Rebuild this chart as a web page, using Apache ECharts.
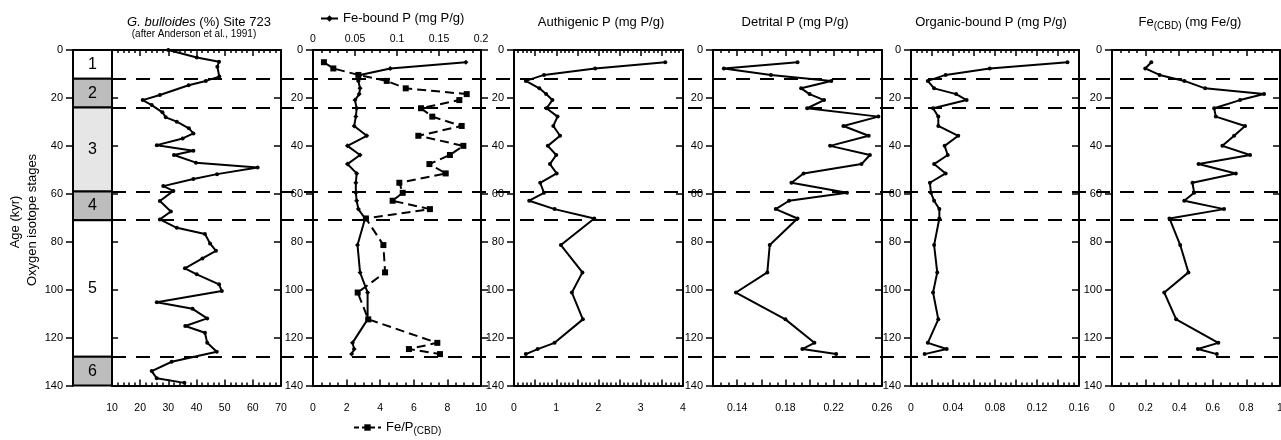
<!DOCTYPE html>
<html><head><meta charset="utf-8">
<script src="https://cdn.jsdelivr.net/npm/echarts@6/dist/echarts.min.js"></script>
<style>html,body{margin:0;padding:0;background:#fff}#c{width:1281px;height:440px}</style>
</head><body><div id="c"></div>
<script>
// ---------------- data ----------------
const bullAges = [0, 3.1, 4.9, 7.0, 11.1, 12.9, 14.7, 18.8, 20.9, 23.0, 26.0, 28.1, 29.9, 32.7, 34.8, 36.9, 39.7, 42.0, 43.8, 47.0, 49.0, 51.8, 53.8, 56.8, 58.8, 63.0, 67.4, 70.7, 74.2, 76.8, 80.7, 83.8, 87.0, 91.1, 93.6, 97.8, 100.6, 105.3, 108.0, 112.0, 115.2, 118.0, 122.2, 125.9, 130.1, 134.0, 137.0, 138.9];
const bulloides = [30.0, 40.1, 48.0, 47.4, 48.1, 43.3, 37.2, 27.0, 20.9, 24.1, 27.9, 29.1, 33.0, 37.3, 38.9, 35.1, 25.9, 38.9, 32.0, 39.8, 61.7, 47.3, 38.9, 28.2, 31.8, 27.0, 30.9, 27.0, 33.0, 43.0, 44.8, 46.9, 42.1, 35.9, 40.1, 48.0, 49.0, 25.9, 38.6, 43.8, 36.0, 43.0, 43.8, 47.2, 31.2, 24.1, 25.9, 35.7];

const ages = [5.1, 7.7, 10.4, 12.9, 16.0, 18.4, 20.9, 24.3, 27.8, 31.7, 35.8, 40.0, 43.8, 47.6, 51.5, 55.4, 59.6, 62.9, 66.4, 70.3, 81.4, 92.8, 101.2, 112.4, 122.2, 124.8, 126.9];
const feBoundP = [0.182, 0.092, 0.056, 0.054, 0.056, 0.055, 0.050, 0.052, 0.051, 0.049, 0.064, 0.041, 0.056, 0.041, 0.052, 0.051, 0.051, 0.052, 0.054, 0.062, 0.053, 0.056, 0.065, 0.065, 0.047, 0.049, 0.046];
const feP = [0.65, 1.21, 2.70, 4.39, 5.52, 9.15, 8.71, 6.43, 7.10, 8.85, 6.27, 8.95, 8.15, 6.93, 7.90, 5.14, 5.34, 4.74, 6.96, 3.15, 4.19, 4.29, 2.66, 3.29, 7.40, 5.71, 7.56];
const authigenicP = [3.58, 1.92, 0.71, 0.28, 0.60, 0.76, 0.91, 0.77, 1.03, 0.93, 1.09, 0.80, 1.00, 0.85, 1.01, 0.62, 0.71, 0.36, 0.96, 1.90, 1.11, 1.62, 1.37, 1.63, 0.96, 0.56, 0.28];
const detritalP = [0.190, 0.129, 0.168, 0.218, 0.193, 0.200, 0.212, 0.198, 0.257, 0.228, 0.249, 0.217, 0.250, 0.243, 0.195, 0.185, 0.231, 0.183, 0.172, 0.190, 0.167, 0.165, 0.139, 0.180, 0.204, 0.194, 0.222];
const organicP = [0.149, 0.075, 0.033, 0.016, 0.022, 0.043, 0.053, 0.021, 0.026, 0.026, 0.045, 0.032, 0.035, 0.022, 0.033, 0.018, 0.019, 0.022, 0.027, 0.027, 0.022, 0.025, 0.021, 0.026, 0.016, 0.034, 0.013];
const feCBD = [0.234, 0.198, 0.283, 0.431, 0.554, 0.905, 0.762, 0.608, 0.618, 0.792, 0.727, 0.657, 0.822, 0.515, 0.737, 0.479, 0.489, 0.430, 0.667, 0.342, 0.406, 0.455, 0.311, 0.382, 0.633, 0.511, 0.624];

const stageBounds = [0, 12, 24, 59, 71, 128, 140];
const stageLabels = ['1', '2', '3', '4', '5', '6'];
const stageBoundaryAges = [12, 24, 59, 71, 128];

// ---------------- styles ----------------
const stageFill = ['#ffffff', '#bdbdbd', '#e6e6e6', '#bdbdbd', '#ffffff', '#bdbdbd'];
const FONT = '"Liberation Sans", Arial, Helvetica, sans-serif';
const TOP = 50, HEIGHT = 335.5;

const chart = echarts.init(document.getElementById('c'), null, {renderer: 'canvas'});

const grids = [], xAxes = [], yAxes = [], series = [];
function addGrid(left, width) {
  grids.push({left: left, top: TOP, width: width, height: HEIGHT, containLabel: false, outerBoundsMode: 'none', show: false});
  return grids.length - 1;
}
const axLine = {show: true, onZero: false, lineStyle: {color: '#000', width: 2}};

function xAxis(gi, pos, cfg, showLabel) {
  xAxes.push({
    gridIndex: gi, type: 'value', position: pos, min: cfg.min, max: cfg.max, interval: cfg.interval,
    axisLine: axLine,
    axisTick: {show: true, inside: true, length: 6, lineStyle: {color: '#000', width: 1.5}},
    minorTick: {show: true, splitNumber: cfg.minor, length: 3, lineStyle: {color: '#000', width: 1.5}},
    splitLine: {show: false}, minorSplitLine: {show: false},
    axisLabel: {show: showLabel, color: '#000', fontSize: 10.5, fontFamily: FONT, margin: pos === 'top' ? 5 : 17,
      formatter: cfg.fmt, showMinLabel: true, showMaxLabel: true}
  });
  return xAxes.length - 1;
}
function yAxis(gi, pos, showLabel, tickInside) {
  yAxes.push({
    gridIndex: gi, type: 'value', position: pos, min: 0, max: 140, interval: 20, inverse: true,
    axisLine: axLine,
    axisTick: {show: true, inside: !!tickInside, length: 7, lineStyle: {color: '#000', width: 1.5}},
    splitLine: {show: false},
    axisLabel: {show: showLabel, color: '#000', fontSize: 11, fontFamily: FONT, margin: 10}
  });
  return yAxes.length - 1;
}
function lineSeries(name, xi, yi, xs, ys, symbol, size, dashed) {
  series.push({
    name: name, type: 'line', xAxisIndex: xi, yAxisIndex: yi,
    data: xs.map((v, k) => [v, ys[k]]),
    symbol: symbol, symbolSize: size, showSymbol: true,
    lineStyle: {color: '#000', width: 2, type: dashed ? [9, 5] : 'solid'},
    itemStyle: {color: '#000'}, animation: false, z: 5
  });
}
const fmtFix = d => (v => String(+v.toFixed(d)));

// stage column
const g0 = addGrid(73, 39);
xAxes.push({gridIndex: g0, type: 'value', min: 0, max: 1, show: false});
const y0 = yAxis(g0, 'left', true, false);
series.push({
  type: 'custom', xAxisIndex: xAxes.length - 1, yAxisIndex: y0, animation: false, z: 3,
  data: stageLabels.map((l, i) => [stageBounds[i], stageBounds[i + 1], i]),
  renderItem: function (params, api) {
    const i = api.value(2);
    const p0 = api.coord([0, api.value(0)]);
    const p1 = api.coord([1, api.value(1)]);
    return {
      type: 'rect',
      shape: {x: p0[0], y: p0[1], width: p1[0] - p0[0], height: p1[1] - p0[1]},
      style: {fill: stageFill[i], stroke: '#000', lineWidth: 2},
      textContent: {style: {text: stageLabels[i], fontSize: 16, fill: '#000', fontFamily: FONT}},
      textConfig: {position: 'inside'}
    };
  }
});

// panel 1: G. bulloides
{
  const g = addGrid(112, 169);
  const c = {min: 10, max: 70, interval: 10, minor: 5};
  const xb = xAxis(g, 'bottom', c, true); xAxis(g, 'top', c, false);
  const yl = yAxis(g, 'left', false, true); yAxes[yl].axisTick.length = 6;
  yAxis(g, 'right', false, true);
  lineSeries('bull', xb, yl, bulloides, bullAges, 'circle', 4, false);
}
// panel 2: Fe-bound P and Fe/P
{
  const g = addGrid(313, 168);
  const xb = xAxis(g, 'bottom', {min: 0, max: 10, interval: 2, minor: 4}, true);
  const xt = xAxis(g, 'top', {min: 0, max: 0.2, interval: 0.05, minor: 5, fmt: fmtFix(2)}, true);
  const yl = yAxis(g, 'left', true, false); yAxis(g, 'right', false, false);
  lineSeries('Fe-bound P (mg P/g)', xt, yl, feBoundP, ages, 'diamond', 5, false);
  lineSeries('Fe/P', xb, yl, feP, ages, 'rect', 6, true);
}
// panels 3-6
const others = [
  {left: 514, width: 169, vals: authigenicP, c: {min: 0, max: 4, interval: 0.5, minor: 5, fmt: v => (Math.abs(v - Math.round(v)) < 1e-6 ? String(Math.round(v)) : '')}},
  {left: 713, width: 169, vals: detritalP, c: {min: 0.12, max: 0.26, interval: 0.02, minor: 3, fmt: v => (Math.round(v * 100) % 4 === 2 ? String(+v.toFixed(2)) : '')}},
  {left: 911, width: 168, vals: organicP, c: {min: 0, max: 0.16, interval: 0.02, minor: 4, fmt: v => (Math.round(v * 100) % 4 === 0 ? String(+v.toFixed(2)) : '')}},
  {left: 1112, width: 168, vals: feCBD, c: {min: 0, max: 1, interval: 0.2, minor: 4, fmt: fmtFix(1)}}
];
others.forEach((p, k) => {
  const g = addGrid(p.left, p.width);
  const xb = xAxis(g, 'bottom', p.c, true); xAxis(g, 'top', p.c, false);
  const yl = yAxis(g, 'left', true, false); yAxis(g, 'right', false, true);
  lineSeries('p' + k, xb, yl, p.vals, ages, 'circle', 4, false);
});

// dashed stage boundaries across panels
{
  const g = addGrid(112, 1169);
  xAxes.push({gridIndex: g, type: 'value', min: 0, max: 1, show: false});
  yAxes.push({gridIndex: g, type: 'value', min: 0, max: 140, inverse: true, show: false});
  series.push({
    type: 'line', xAxisIndex: xAxes.length - 1, yAxisIndex: yAxes.length - 1, data: [],
    animation: false, silent: true, z: 2,
    markLine: {
      silent: true, symbol: ['none', 'none'], animation: false, label: {show: false},
      lineStyle: {color: '#000', width: 2, type: [14, 10]},
      emphasis: {disabled: true},
      data: stageBoundaryAges.map(a => ({yAxis: a}))
    }
  });
}

const txt = (x, y, text, size, extra) => Object.assign({
  type: 'text', x: x, y: y, silent: true,
  style: Object.assign({text: text, fontSize: size, fontFamily: FONT, fill: '#000', align: 'center', verticalAlign: 'middle'}, extra || {})
});

chart.setOption({
  animation: false,
  backgroundColor: '#fff',
  grid: grids, xAxis: xAxes, yAxis: yAxes, series: series,
  legend: [
    {data: ['Fe-bound P (mg P/g)'], left: 320, top: 12, padding: 0, itemWidth: 17, itemHeight: 8, selectedMode: false,
      textStyle: {color: '#000', fontSize: 13, fontFamily: FONT}},
    {data: ['Fe/P'], left: 353, top: 421, padding: 0, itemWidth: 27, itemHeight: 8, selectedMode: false,
      lineStyle: {type: [5, 3], width: 2, color: '#000'},
      formatter: () => '{a|Fe/P}{b|(CBD)}',
      textStyle: {color: '#000', fontFamily: FONT, rich: {a: {fontSize: 13, fontFamily: FONT}, b: {fontSize: 10, fontFamily: FONT, padding: [8, 0, 0, 0]}}}}
  ],
  graphic: [
    txt(199, 22.5, '{i|G. bulloides} (%) Site 723', 13, {rich: {i: {fontStyle: 'italic', fontSize: 13, fontFamily: FONT}}}),
    txt(194, 34.5, '(after Anderson et al., 1991)', 10),
    txt(601, 22.5, 'Authigenic P (mg P/g)', 13),
    txt(795, 22.5, 'Detrital P (mg P/g)', 13),
    txt(991, 22.5, 'Organic-bound P (mg P/g)', 13),
    txt(1190, 22.5, '{a|Fe}{s|(CBD)}{a| (mg Fe/g)}', 13, {rich: {a: {fontSize: 13, fontFamily: FONT}, s: {fontSize: 10, fontFamily: FONT, padding: [8, 0, 0, 0]}}}),
    Object.assign(txt(15, 222, 'Age (kyr)', 13), {rotation: Math.PI / 2}),
    Object.assign(txt(32, 220, 'Oxygen isotope stages', 13), {rotation: Math.PI / 2})
  ]
});
</script></body></html>
